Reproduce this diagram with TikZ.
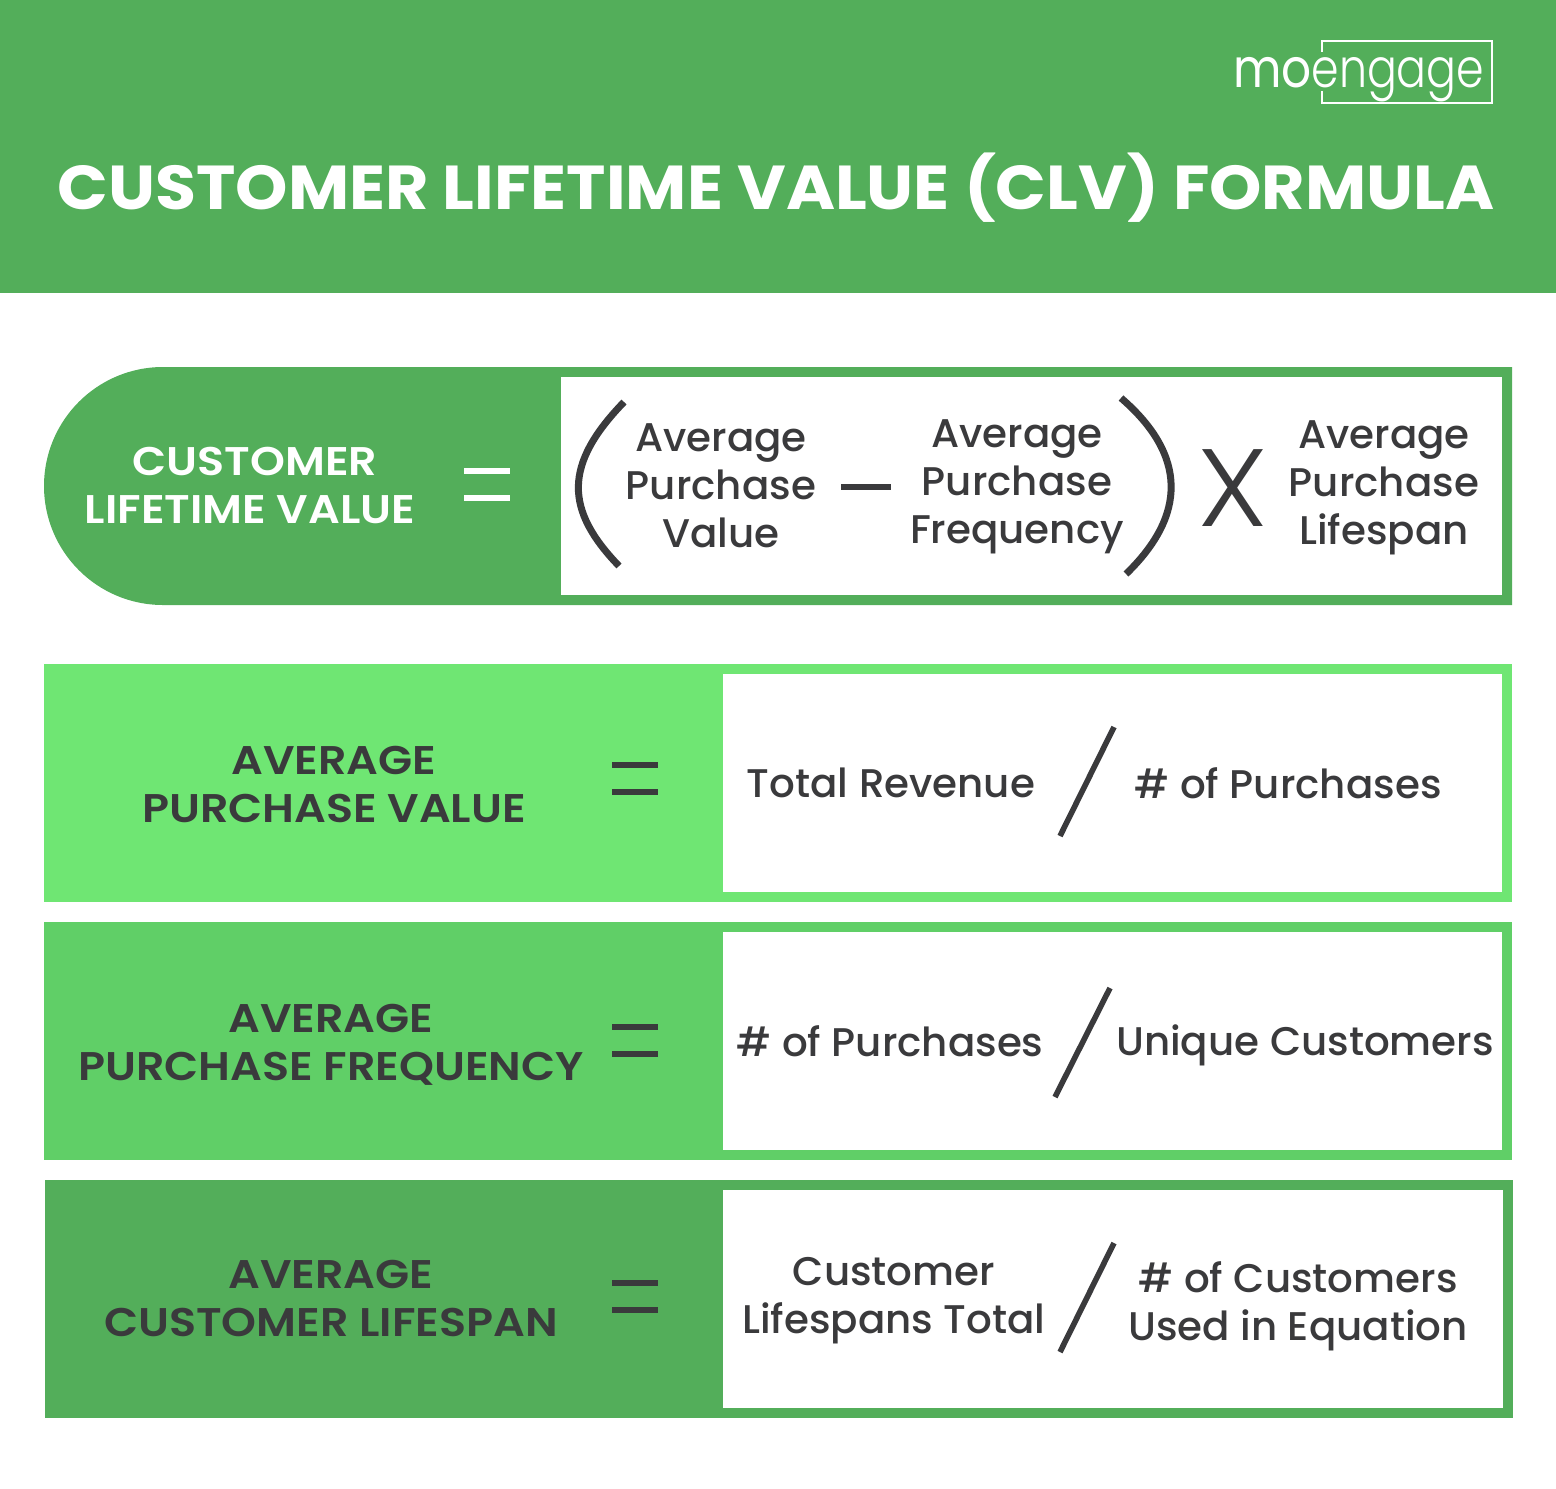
\documentclass[tikz,border=0pt]{standalone}
\usepackage{fontspec}
\setmainfont{Poppins}
\newfontfamily\bodyfont[FakeStretch=1.01]{Poppins Medium}
\newfontfamily\headfont[FakeStretch=1.11]{Poppins SemiBold}
\newfontfamily\titlefont[FakeStretch=1.075]{Poppins Bold}
\newfontfamily\timesfont[FakeStretch=1.1]{Poppins Light}
\newfontfamily\logofont[FakeStretch=0.87]{Poppins}
\newfontfamily\logothinfont[FakeStretch=0.82]{Poppins Light}
\definecolor{bandgreen}{HTML}{53AE5A}
\definecolor{lightgreen}{HTML}{6FE673}
\definecolor{midgreen}{HTML}{60CF67}
\definecolor{inkgrey}{HTML}{3A3A3C}
\tikzstyle{every node}=[inner sep=0pt, outer sep=0pt, align=center]
\tikzstyle{title}=[white, font=\fontsize{31}{36}\selectfont\titlefont]
\tikzstyle{head}=[inkgrey, font=\fontsize{20}{24}\selectfont\headfont]
\tikzstyle{body}=[inkgrey, font=\fontsize{20}{24}\selectfont\bodyfont]
\tikzstyle{sign}=[inkgrey, line width=2.8pt]
\tikzstyle{curve}=[inkgrey, line width=3.5pt]
\begin{document}
\begin{tikzpicture}[x=0.5pt, y=-0.5pt]
\useasboundingbox (0,0) rectangle (1556,1488);
% Header
    \fill[bandgreen] (0,0) rectangle (1556,293);
    \node[title] (heading) at (776,188) {CUSTOMER LIFETIME VALUE (CLV) FORMULA};
% Logo
    \draw[white, line width=0.8pt] (1322,52) -- (1322,41) -- (1492,41) -- (1492,103) -- (1322,103) -- (1322,91);
    \node[white, anchor=base west, font=\fontsize{27}{30}\selectfont\logofont] (logomo) at (1233,87) {mo};
    \node[white, anchor=base west, font=\fontsize{27}{30}\selectfont\logothinfont] (logoengage) at (logomo.base east) {engage};
% Customer lifetime value
    \fill[bandgreen] (163,367) arc[start angle=270, end angle=90, radius=119] -- (1512,605) -- (1512,367) -- cycle;
    \fill[white] (561,377) rectangle (1502,595);
    \node[head, white] (clvtop) at (255,461) {CUSTOMER};
    \node[head, white] (clvlow) at (250,510) {LIFETIME VALUE};
    \draw[sign, white] (464,471) -- (510,471);
    \draw[sign, white] (464,498) -- (510,498);
    \draw[curve] (624,402) .. controls (563,465) and (565,510) .. (619,566);
    \draw[curve] (1121,398) .. controls (1187,455) and (1187,515) .. (1126,574);
    \node[body] (apv) at (721,486) {Average\\Purchase\\Value};
    \draw[sign] (841,487) -- (891,487);
    \node[body] (apf) at (1017,487) {Average\\Purchase\\Frequency};
    \node[inkgrey, font=\fontsize{55}{55}\selectfont\timesfont] (times) at (1233,488) {X};
    \node[body] (apl) at (1384,488) {Average\\Purchase\\Lifespan};
% Average purchase value
    \fill[lightgreen] (44,664) rectangle (1512,902);
    \fill[white] (723,674) rectangle (1502,892);
    \node[head] (valuelabel) at (334,784) {AVERAGE\\PURCHASE VALUE};
    \draw[sign] (612,765) -- (658,765);
    \draw[sign] (612,792) -- (658,792);
    \node[body] (revenue) at (891,783) {Total Revenue};
    \draw[sign] (1114,727) -- (1060,836);
    \node[body] (purchases) at (1288,783) {\# of Purchases};
% Average purchase frequency
    \fill[midgreen] (44,922) rectangle (1512,1160);
    \fill[white] (723,932) rectangle (1502,1150);
    \node[head] (freqlabel) at (331,1045) {AVERAGE\\PURCHASE FREQUENCY};
    \draw[sign] (612,1027) -- (658,1027);
    \draw[sign] (612,1054) -- (658,1054);
    \node[body] (purchasestoo) at (890,1041) {\# of Purchases};
    \draw[sign] (1110,988) -- (1055,1097);
    \node[body] (unique) at (1305,1045) {Unique Customers};
% Average customer lifespan
    \fill[bandgreen] (45,1180) rectangle (1513,1418);
    \fill[white] (723,1190) rectangle (1503,1408);
    \node[head] (spanlabel) at (331,1298) {AVERAGE\\CUSTOMER LIFESPAN};
    \draw[sign] (612,1283) -- (658,1283);
    \draw[sign] (612,1310) -- (658,1310);
    \node[body] (spans) at (894,1301) {Customer\\Lifespans Total};
    \draw[sign] (1114,1243) -- (1060,1352);
    \node[body] (used) at (1298,1306) {\# of Customers\\Used in Equation};
\end{tikzpicture}
\end{document}
